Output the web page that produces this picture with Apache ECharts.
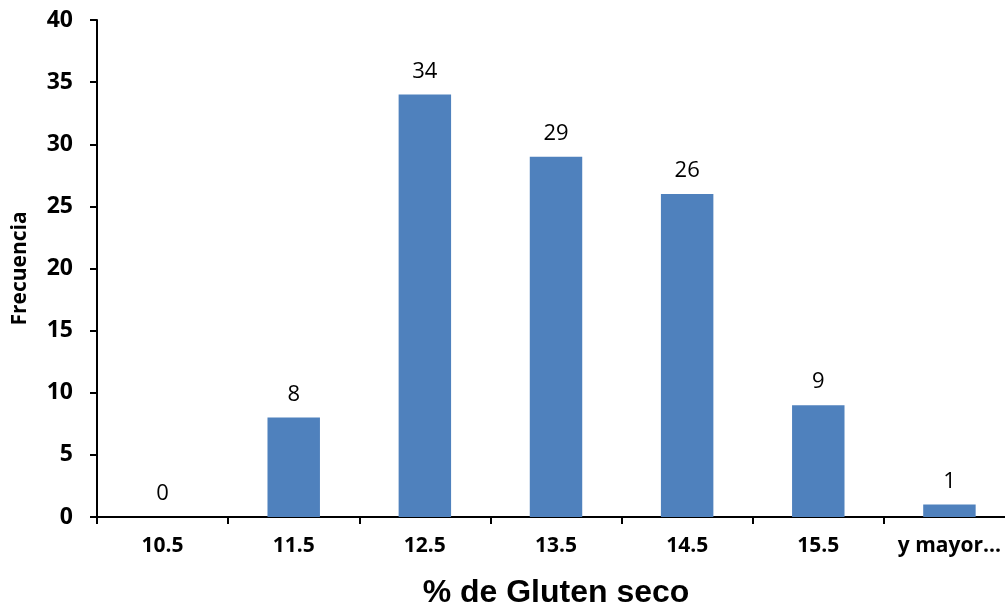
<!DOCTYPE html>
<html>
<head>
<meta charset="utf-8">
<script src="https://cdn.jsdelivr.net/npm/echarts@6/dist/echarts.min.js"></script>
<style>
  html, body { margin: 0; padding: 0; background: #fff; }
  #chart { width: 1005px; height: 607px; }
</style>
</head>
<body>
<div id="chart"></div>
<script>
const categories = ['10.5', '11.5', '12.5', '13.5', '14.5', '15.5', 'y mayor...'];
const frecuencia = [0, 8, 34, 29, 26, 9, 1];

const chart = echarts.init(document.getElementById('chart'), null, { renderer: 'canvas' });

const option = {
  backgroundColor: '#ffffff',
  animation: false,
  grid: { left: 97, right: -10, top: 20, bottom: 90, outerBoundsMode: 'none', containLabel: false },
  xAxis: {
    type: 'category',
    data: categories,
    name: '% de Gluten seco',
    nameLocation: 'middle',
    nameGap: 60,
    nameTextStyle: { fontFamily: 'Liberation Sans', fontWeight: 'bold', fontSize: 32, color: '#000' },
    axisLine: { lineStyle: { color: '#000', width: 2 } },
    axisTick: { show: true, interval: 0, length: 7, lineStyle: { color: '#000', width: 2 } },
    axisLabel: { interval: 0, hideOverlap: false, color: '#000', fontFamily: 'Open Sans', fontWeight: 'bold', fontSize: 21, margin: 19 },
    splitLine: { show: false }
  },
  yAxis: {
    type: 'value',
    min: 0,
    max: 40,
    interval: 5,
    name: 'Frecuencia',
    nameLocation: 'middle',
    nameGap: 66,
    nameTextStyle: { fontFamily: 'Open Sans', fontWeight: 'bold', fontSize: 21, color: '#000' },
    axisLine: { show: true, lineStyle: { color: '#000', width: 2 } },
    axisTick: { show: true, length: 7, lineStyle: { color: '#000', width: 2 } },
    axisLabel: { color: '#000', fontFamily: 'Open Sans', fontWeight: 'bold', fontSize: 23, margin: 24 },
    splitLine: { show: false }
  },
  series: [{
    type: 'bar',
    data: frecuencia,
    barWidth: '40%',
    itemStyle: { color: '#4F81BD' },
    label: {
      show: true,
      position: 'top',
      distance: 12,
      color: '#000',
      fontFamily: 'Open Sans',
      fontSize: 22
    }
  }]
};

chart.setOption(option);
</script>
</body>
</html>
